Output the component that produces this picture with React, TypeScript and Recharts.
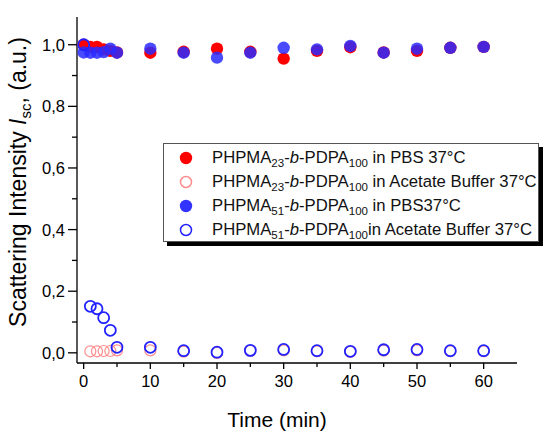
import React from 'react';
import { ScatterChart, Scatter, XAxis, YAxis } from 'recharts';

const times = [0, 1, 2, 3, 4, 5, 10, 15, 20, 25, 30, 35, 40, 45, 50, 55, 60];
const pbs23 = [1.0, 0.993, 0.993, 0.985, 0.98, 0.975, 0.974, 0.977, 0.987, 0.977, 0.955, 0.98, 0.992, 0.975, 0.98, 0.99, 0.993];
const acetate23 = [1.0, 0.005, 0.005, 0.006, 0.006, 0.008, 0.008, 0.004, 0.0, 0.006, 0.008, 0.005, 0.003, 0.007, 0.008, 0.005, 0.005];
const pbs51 = [0.975, 0.974, 0.974, 0.976, 0.987, 0.974, 0.987, 0.974, 0.958, 0.974, 0.99, 0.985, 0.996, 0.974, 0.987, 0.99, 0.993];
const acetate51 = [1.0, 0.151, 0.143, 0.114, 0.073, 0.018, 0.018, 0.007, 0.002, 0.008, 0.011, 0.007, 0.005, 0.01, 0.011, 0.007, 0.007];

const xTicks = [0, 5, 10, 15, 20, 25, 30, 35, 40, 45, 50, 55, 60];
const yTicks = [0, 0.1, 0.2, 0.3, 0.4, 0.5, 0.6, 0.7, 0.8, 0.9, 1.0];

const toPoints = (vals: number[]) => times.map((t, i) => ({ t, v: vals[i] }));

const FONT = 'Liberation Sans, Arial, sans-serif';

const XTick = (props: any) => {
  const { x, y, payload } = props;
  const major = payload.value % 10 === 0;
  return (
    <g>
      <line x1={x} x2={x} y1={y} y2={y + (major ? 6 : 4)} stroke="#000" strokeWidth={1.3} />
      {major && (
        <text x={x} y={y + 24} textAnchor="middle" fontSize={16.5} fontFamily={FONT} fill="#000">
          {payload.value}
        </text>
      )}
    </g>
  );
};

const YTick = (props: any) => {
  const { x, y, payload } = props;
  const major = Math.round(payload.value * 10) % 2 === 0;
  return (
    <g>
      <line x1={x} x2={x - (major ? 9 : 5)} y1={y} y2={y} stroke="#000" strokeWidth={1.3} />
      {major && (
        <text x={x - 12} y={y + 6} textAnchor="end" fontSize={16.5} fontFamily={FONT} fill="#000">
          {payload.value.toFixed(1).replace('.', ',')}
        </text>
      )}
    </g>
  );
};

const dot = (fill: string, stroke: string, opacity = 1, strokeWidth = 0) => (p: any) => (
  <circle cx={p.cx} cy={p.cy} r={strokeWidth ? 5.5 : 6.2} fill={fill} fillOpacity={opacity} stroke={stroke} strokeWidth={strokeWidth} />
);

const legendRows = [
  { n: '23', buf: ' in PBS 37°C', fill: '#ff0000', stroke: 'none' },
  { n: '23', buf: ' in Acetate Buffer 37°C', fill: 'none', stroke: '#ff8c8c' },
  { n: '51', buf: ' in PBS37°C', fill: '#3333ff', stroke: 'none' },
  { n: '51', buf: 'in Acetate Buffer 37°C', fill: 'none', stroke: '#2222ff' },
];

const App: React.FC = () => {
  return (
    <div style={{ position: 'absolute', left: 0, top: 0, width: 544, height: 433, background: '#fff' }}>
      <ScatterChart width={544} height={433} margin={{ top: 17, right: 27, bottom: 0, left: 0 }}>
        <XAxis
          type="number"
          dataKey="t"
          domain={[-1, 65]}
          ticks={xTicks}
          interval={0}
          tickSize={0}
          tickMargin={0}
          tick={<XTick />}
          height={70}
          stroke="#000"
          strokeWidth={1.3}
          label={{
            content: () => (
              <text x={277} y={427} textAnchor="middle" fontSize={21} fontFamily={FONT} fill="#000">
                Time (min)
              </text>
            ),
          }}
        />
        <YAxis
          type="number"
          dataKey="v"
          domain={[-0.033, 1.09]}
          ticks={yTicks}
          interval={0}
          tickSize={0}
          tickMargin={0}
          tick={<YTick />}
          width={77}
          stroke="#000"
          strokeWidth={1.3}
          label={{
            content: () => (
              <text x={26} y={182} transform="rotate(-90 26 182)" textAnchor="middle" fontSize={23} fontFamily={FONT} fill="#000">
                Scattering Intensity <tspan fontStyle="italic">I</tspan>
                <tspan fontSize={15} dy={5}>sc</tspan>
                <tspan dy={-5}>, (a.u.)</tspan>
              </text>
            ),
          }}
        />
        <Scatter data={toPoints(pbs23)} shape={dot('#ff0000', 'none')} isAnimationActive={false} />
        <Scatter data={toPoints(acetate23)} shape={dot('none', '#ff8c8c', 1, 1.2)} isAnimationActive={false} />
        <Scatter data={toPoints(pbs51)} shape={dot('#2a2aff', 'none', 0.85)} isAnimationActive={false} />
        <Scatter data={toPoints(acetate51)} shape={dot('none', '#2222ff', 1, 1.8)} isAnimationActive={false} />
      </ScatterChart>
      <div
        style={{
          position: 'absolute',
          left: 163,
          top: 143,
          width: 376,
          height: 99,
          border: '1px solid #555',
          background: '#fff',
          boxShadow: '4px 4px 0 #000',
          fontFamily: FONT,
          fontSize: 16.7,
          color: '#111',
          boxSizing: 'border-box',
          paddingTop: 2,
        }}
      >
        {legendRows.map((r, i) => (
          <div key={i} style={{ display: 'flex', alignItems: 'center', height: 24, whiteSpace: 'nowrap' }}>
            <svg width={48} height={20} style={{ flex: 'none' }}>
              <circle cx={22} cy={10} r={r.fill === 'none' ? 5.5 : 6.2} fill={r.fill} stroke={r.stroke} strokeWidth={1.5} />
            </svg>
            <span>
              PHPMA<sub style={{ fontSize: 11.5, verticalAlign: -4 }}>{r.n}</sub>-<i>b</i>-PDPA
              <sub style={{ fontSize: 11.5, verticalAlign: -4 }}>100</sub>
              {r.buf}
            </span>
          </div>
        ))}
      </div>
    </div>
  );
};

export default App;
